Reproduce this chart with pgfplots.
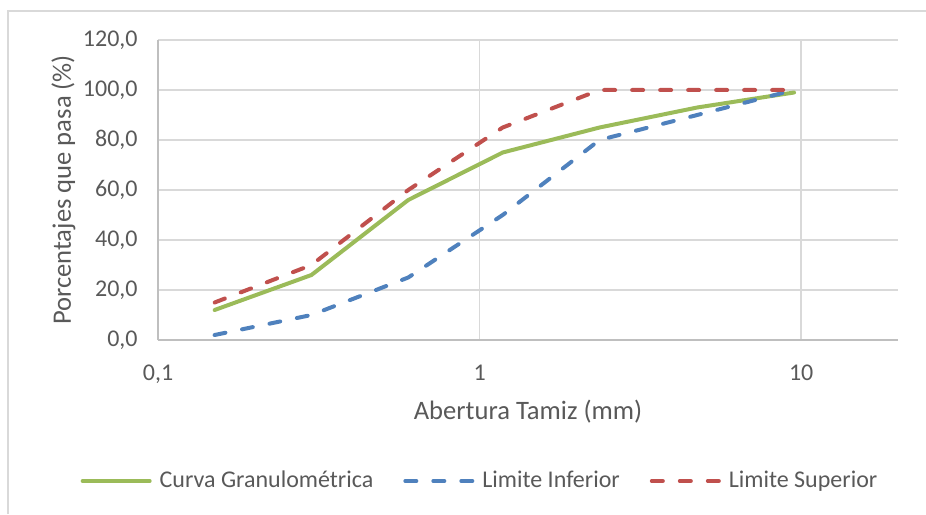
\documentclass[border=0pt]{standalone}
\usepackage{fontspec}
\setmainfont{Carlito}
\usepackage{pgfplots}
\pgfplotsset{compat=1.18}
\definecolor{cgreen}{HTML}{9BBB59}
\definecolor{cblue}{HTML}{4F81BD}
\definecolor{cred}{HTML}{C0504D}
\definecolor{gridc}{HTML}{D9D9D9}
\definecolor{axc}{HTML}{BFBFBF}
\definecolor{txt}{HTML}{595959}
\begin{document}
\begin{tikzpicture}
\path[use as bounding box] (-79pt,-87pt) rectangle (384pt,170pt);
\draw[gridc, line width=1pt] (-75pt,-87pt) -- (-75pt,164.5pt) -- (384pt,164.5pt);
\begin{axis}[
  at={(0pt,0pt)}, anchor=south west,
  scale only axis, width=370pt, height=150pt,
  xmode=log, xmin=0.1, xmax=20,
  ymin=0, ymax=120,
  xtick={0.1,1,10}, xticklabels={{0,1},1,10},
  ytick={0,20,40,60,80,100,120},
  /pgf/number format/fixed, /pgf/number format/fixed zerofill,
  /pgf/number format/precision=1, /pgf/number format/use comma,
  /pgf/number format/assume math mode=true,
  grid=major,
  major grid style={gridc, line width=0.75pt},
  minor tick num=0,
  major tick length=0pt, minor tick length=0pt,
  axis lines*=left,
  axis line style={axc, line width=0.75pt, -},
  tick label style={font=\fontsize{12}{14}\selectfont, text=txt},
  yticklabel style={anchor=east, inner sep=0pt, xshift=-10pt},
  xticklabel style={anchor=base, inner sep=0pt, yshift=-20pt},
  xlabel={Abertura Tamiz (mm)},
  ylabel={Porcentajes que pasa (\%)},
  label style={font=\fontsize{13.3}{15}\selectfont, text=txt},
  xlabel style={at={(axis description cs:0.5,0)}, anchor=base, inner sep=0pt, yshift=-39.5pt},
  ylabel style={at={(axis description cs:0,0.5)}, anchor=base, inner sep=0pt, yshift=43.5pt},
  legend columns=3,
  legend style={draw=none, fill=none, at={(axis description cs:0.4338,-0.47)}, anchor=center,
    font=\fontsize{12}{14}\selectfont, text=txt,
    /tikz/every odd column/.style={column sep=4pt},
    /tikz/every even column/.style={column sep=15pt},
    nodes={inner sep=0pt}},
  legend image code/.code={\draw[#1] (0pt,0pt) -- (33.5pt,0pt);},
  every axis plot/.append style={line width=2pt, line join=round},
]
\addplot[cgreen, line cap=round] coordinates {(0.15,12) (0.3,26) (0.6,56) (1.18,75) (2.36,85) (4.75,93) (9.5,99)};
\addlegendentry{Curva Granulométrica}
\addplot[cblue, line cap=round, dash pattern=on 5.5pt off 8.5pt] coordinates {(0.15,2) (0.3,10) (0.6,25) (1.18,50) (2.36,80) (4.75,90) (9.5,100)};
\addlegendentry{Limite Inferior}
\addplot[cred, line cap=round, dash pattern=on 5.5pt off 8.5pt] coordinates {(0.15,15) (0.3,30) (0.6,60) (1.18,85) (2.36,100) (4.75,100) (9.5,100)};
\addlegendentry{Limite Superior}
\end{axis}
\end{tikzpicture}
\end{document}
